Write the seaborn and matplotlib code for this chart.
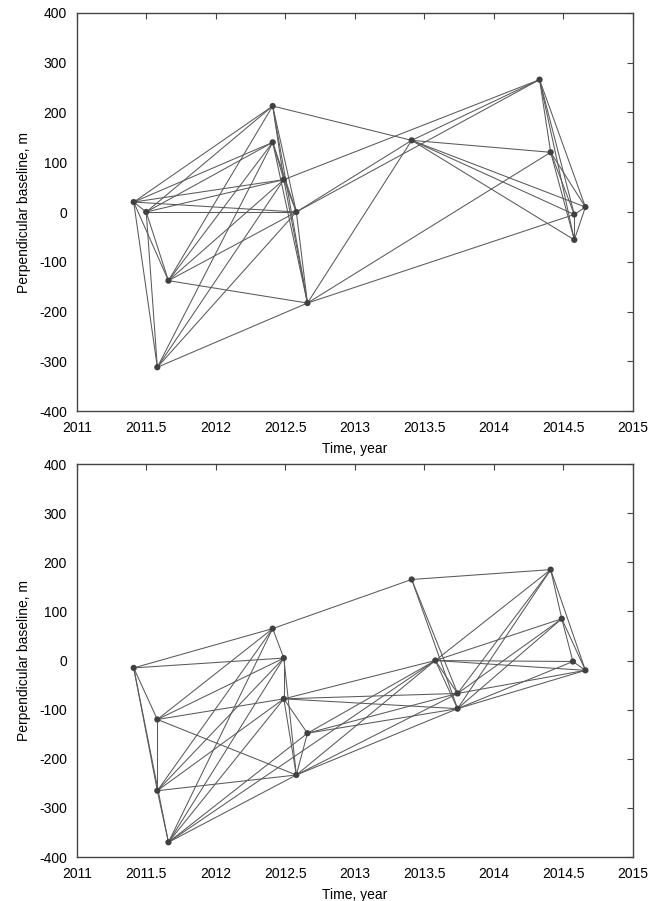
import matplotlib
matplotlib.use("Agg")
import matplotlib.pyplot as plt
import seaborn as sns
import pandas as pd

# ---- top panel (track 1) ----
top_time = [2011.41, 2011.50, 2011.66, 2011.58, 2012.41, 2012.41, 2012.49, 2012.58,
            2012.66, 2013.41, 2014.33, 2014.41, 2014.66, 2014.58, 2014.58]
top_baseline = [20, 0, -138, -312, 213, 140, 65, 0, -183, 144, 266, 120, 10, -5, -56]
top_edges = [(0, 1), (0, 2), (0, 3), (0, 4), (0, 5), (0, 7), (0, 6),
             (1, 2), (1, 3), (1, 4), (1, 5), (1, 6), (1, 7),
             (2, 4), (2, 5), (2, 6), (2, 7), (2, 8),
             (3, 5), (3, 6), (3, 7), (3, 8),
             (4, 6), (4, 7), (4, 8), (4, 9),
             (5, 6), (5, 7), (5, 8),
             (6, 7), (6, 8), (6, 10),
             (7, 8), (7, 9), (7, 10),
             (8, 9), (8, 11), (8, 13),
             (9, 10), (9, 11), (9, 12), (9, 13), (9, 14),
             (10, 11), (10, 12), (10, 13), (10, 14),
             (11, 12), (11, 13), (11, 14),
             (12, 13), (12, 14), (13, 14)]

# ---- bottom panel (track 2) ----
bot_time = [2011.41, 2011.58, 2011.58, 2011.66, 2012.41, 2012.49, 2012.49, 2012.66,
            2012.58, 2013.41, 2013.58, 2013.74, 2013.74, 2014.41, 2014.49, 2014.57, 2014.66]
bot_baseline = [-15, -120, -265, -370, 65, 5, -78, -148, -233, 165, 0, -67, -98,
                185, 85, -2, -20]
bot_edges = [(0, 1), (0, 2), (0, 3), (0, 4), (0, 5),
             (1, 2), (1, 4), (1, 5), (1, 6), (1, 8),
             (2, 3), (2, 4), (2, 5), (2, 6), (2, 8),
             (3, 4), (3, 5), (3, 6), (3, 7), (3, 8), (3, 10),
             (4, 5), (4, 9),
             (5, 6), (5, 8),
             (6, 7), (6, 8), (6, 10), (6, 11), (6, 12),
             (7, 8), (7, 10), (7, 11), (7, 12),
             (8, 10), (8, 11), (8, 12),
             (9, 13), (9, 11), (9, 12),
             (10, 13), (10, 14), (10, 15), (10, 11), (10, 12), (10, 16),
             (11, 13), (11, 14), (11, 16),
             (12, 13), (12, 14), (12, 15), (12, 16),
             (13, 14), (13, 16), (14, 15), (14, 16), (15, 16)]

x_ticks = [2011, 2011.5, 2012, 2012.5, 2013, 2013.5, 2014, 2014.5, 2015]
x_tick_labels = ["2011", "2011.5", "2012", "2012.5", "2013", "2013.5", "2014", "2014.5", "2015"]
y_ticks = [-400, -300, -200, -100, 0, 100, 200, 300, 400]
x_label = "Time, year"
y_label = "Perpendicular baseline, m"

sns.set_style("white")
plt.rcParams['font.family'] = ['Liberation Sans', 'DejaVu Sans']
plt.rcParams['axes.unicode_minus'] = False
plt.rcParams['text.color'] = 'black'
plt.rcParams['axes.labelcolor'] = 'black'
plt.rcParams['xtick.color'] = 'black'
plt.rcParams['ytick.color'] = 'black'

fig = plt.figure(figsize=(6.54, 9.01), dpi=100)
ax1 = fig.add_axes([0.1173, 0.5438, 0.8501, 0.4418])
ax2 = fig.add_axes([0.1173, 0.0488, 0.8501, 0.4362])


def draw(ax, times, bases, edges):
    rows = []
    for k, (i, j) in enumerate(edges):
        rows.append({"edge": k, "t": times[i], "b": bases[i]})
        rows.append({"edge": k, "t": times[j], "b": bases[j]})
    df_e = pd.DataFrame(rows)
    sns.lineplot(data=df_e, x="t", y="b", units="edge", estimator=None,
                 color="#5a5a5a", lw=0.75, sort=False, ax=ax, legend=False)
    df_n = pd.DataFrame({"t": times, "b": bases})
    sns.scatterplot(data=df_n, x="t", y="b", color="#404040", s=20,
                    edgecolor="none", ax=ax, zorder=3, legend=False)
    ax.set_xlim(2011, 2015)
    ax.set_ylim(-400, 400)
    ax.set_xticks(x_ticks)
    ax.set_xticklabels(x_tick_labels)
    ax.set_yticks(y_ticks)
    ax.set_xlabel(x_label, fontsize=10, labelpad=5)
    ax.set_ylabel(y_label, fontsize=10, labelpad=6)
    ax.tick_params(direction="in", length=4, width=0.8, top=True, right=True,
                   labelsize=10, color="#444444")
    ax.tick_params(axis="x", pad=7)
    ax.tick_params(axis="y", pad=7)
    for s in ax.spines.values():
        s.set_visible(True)
        s.set_color("#444444")
        s.set_linewidth(1.0)


draw(ax1, top_time, top_baseline, top_edges)
draw(ax2, bot_time, bot_baseline, bot_edges)

fig.savefig("out.png", dpi=100)
